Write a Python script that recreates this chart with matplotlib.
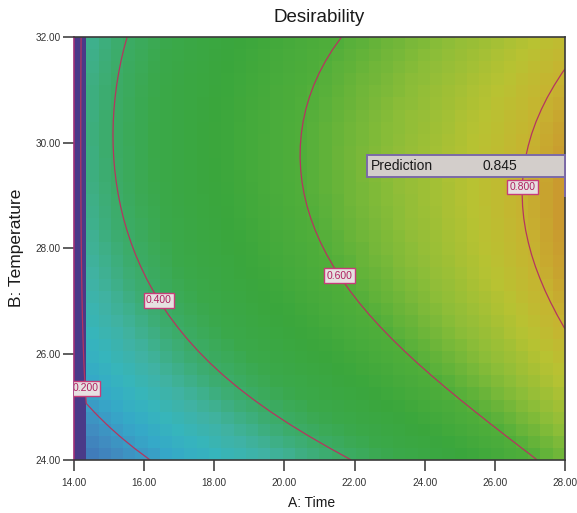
import numpy as np
import matplotlib
matplotlib.use("Agg")
import matplotlib.pyplot as plt
from matplotlib.colors import LinearSegmentedColormap
from matplotlib.patches import Rectangle

plt.rcParams['font.family'] = ['Liberation Sans', 'DejaVu Sans']

# axis ranges and ticks
time_lim = [14.0, 28.0]
temp_lim = [24.0, 32.0]
time_ticks = [14, 16, 18, 20, 22, 24, 26, 28]
temp_ticks = [24, 26, 28, 30, 32]

# contour traces (A: Time, B: Temperature)
levels = [0.2, 0.4, 0.6, 0.8]
d020_time = [14.46, 14.74, 15.31, 16.25]
d020_temp = [25.13, 24.81, 24.34, 24.00]
d040_time = [15.43, 15.23, 15.17, 15.60, 16.08, 16.42, 17.60, 18.53, 20.44, 22.00]
d040_temp = [32.00, 31.13, 29.86, 28.00, 27.35, 27.02, 26.08, 25.46, 24.62, 24.00]
d060_time = [22.00, 21.00, 20.44, 20.30, 20.44, 21.00, 21.60, 22.73, 24.64, 27.15]
d060_temp = [32.00, 31.13, 30.48, 29.80, 28.90, 28.00, 27.50, 26.51, 25.27, 24.00]
d080_time = [28.00, 27.09, 26.80, 26.75, 26.95, 27.49, 28.00]
d080_temp = [31.28, 30.30, 29.73, 28.90, 27.97, 27.35, 26.65]
# edge values judged from the colours
edge_time = [14.35, 14.35, 14.35, 14.35, 14.35, 14.35, 28.0, 28.0, 28.0]
edge_temp = [32.0, 30.0, 28.0, 26.0, 25.1, 24.0, 32.0, 29.0, 24.0]
edge_val = [0.35, 0.35, 0.33, 0.27, 0.20, 0.12, 0.78, 0.85, 0.64]

# flag
pred_time = 28.0
pred_temp = 29.0
pred_value = 0.845

# label spots for the contour values
label_spots = [(14.40, 25.36), (16.42, 27.02), (21.60, 27.50), (26.75, 29.16)]

# colours of the desirability scale
scale_vals = [0.00, 0.10, 0.17, 0.23, 0.28, 0.33, 0.39, 0.45, 0.52, 0.60, 0.68, 0.75, 0.80, 0.87]
scale_cols = ['#4a3a88', '#3f6ab3', '#408cc0', '#35a8c8', '#36b5bc', '#40b2a2', '#3cac6c',
              '#3aa84a', '#3aa63c', '#50ae3a', '#8dbd38', '#b8c232', '#c6b430', '#cc8a2e']


def basis(A, B):
    a = (np.asarray(A, float) - 21.0) / 7.0
    b = (np.asarray(B, float) - 28.0) / 4.0
    return np.stack([np.ones_like(a), a, b, a * b, a ** 2, b ** 2,
                     a ** 2 * b, a * b ** 2, a ** 3, b ** 3], axis=-1)


# cubic response surface through the traced points
pts_A = np.concatenate([d020_time, d040_time, d060_time, d080_time, edge_time])
pts_B = np.concatenate([d020_temp, d040_temp, d060_temp, d080_temp, edge_temp])
pts_D = np.concatenate([[0.2] * len(d020_time), [0.4] * len(d040_time),
                        [0.6] * len(d060_time), [0.8] * len(d080_time), edge_val])
coef, *_ = np.linalg.lstsq(basis(pts_A, pts_B), pts_D, rcond=None)

nx, ny = 40, 35
A_nodes = np.linspace(time_lim[0], time_lim[1], nx + 1)
B_nodes = np.linspace(temp_lim[0], temp_lim[1], ny + 1)
AA, BB = np.meshgrid(A_nodes, B_nodes)
Z = np.clip(basis(AA, BB) @ coef, 0, 1)
Z[:, 0] = 0.0  # first column is out of range -> zero desirability

Ac = 0.5 * (A_nodes[:-1] + A_nodes[1:])
Bc = 0.5 * (B_nodes[:-1] + B_nodes[1:])
AC, BC = np.meshgrid(Ac, Bc)
C = np.clip(basis(AC, BC) @ coef, 0, 1)
C[:, 0] = 0.0

cmap = LinearSegmentedColormap.from_list(
    'desir', list(zip(np.array(scale_vals) / scale_vals[-1], scale_cols)))

fig = plt.figure(figsize=(5.77, 5.13), dpi=100)
ax = fig.add_axes([0.1282, 0.1033, 0.851, 0.8246])

ax.pcolormesh(A_nodes, B_nodes, C, cmap=cmap, vmin=0, vmax=scale_vals[-1],
              shading='flat', antialiased=False)
cs = ax.contour(A_nodes, B_nodes, Z, levels=levels, colors='#b5355f', linewidths=0.9)
ax.clabel(cs, inline=False, fmt='%.3f', manual=label_spots, fontsize=7.5)
for t in cs.labelTexts:
    t.set_rotation(0)
    t.set_color('#b02060')
    t.set_bbox(dict(boxstyle='square,pad=0.22', fc='#e6e1e1', ec='#c83c78', lw=1.0))

# prediction flag
box_w, box_h, box_gap = 5.65, 0.42, 0.35
ax.add_patch(Rectangle((pred_time - box_w, pred_temp + box_gap), box_w, box_h,
                       fc='#d3cecb', ec='#7b6aa8', lw=1.4, zorder=5, clip_on=False))
ax.plot([pred_time, pred_time], [pred_temp, pred_temp + box_gap], color='#7b6aa8',
        lw=1.4, zorder=5, clip_on=False)
ax.text(pred_time - box_w + 0.12, pred_temp + box_gap + box_h / 2, 'Prediction',
        fontsize=10, color='#1a1a1a', va='center', ha='left', zorder=6)
ax.text(pred_time - 2.35, pred_temp + box_gap + box_h / 2, '%.3f' % pred_value,
        fontsize=10, color='#1a1a1a', va='center', ha='left', zorder=6)

ax.set_xlim(time_lim)
ax.set_ylim(temp_lim)
ax.set_xticks(time_ticks)
ax.set_yticks(temp_ticks)
ax.set_xticklabels(['%.2f' % v for v in time_ticks])
ax.set_yticklabels(['%.2f' % v for v in temp_ticks])
ax.tick_params(axis='both', direction='out', length=8, width=1.1, color='#333333',
               labelcolor='#333333', labelsize=7.2)
ax.tick_params(axis='x', pad=5)
ax.tick_params(axis='y', pad=1.5)

for side in ['top', 'bottom', 'right']:
    ax.spines[side].set_color('#3a3a3a')
    ax.spines[side].set_linewidth(1.2)
ax.spines['left'].set_color('#a03078')
ax.spines['left'].set_linewidth(1.2)

ax.text(0.5, 1.045, 'Desirability', transform=ax.transAxes, ha='center', va='center',
        fontsize=13.5, color='#1a1a1a')
ax.set_xlabel('A: Time', fontsize=10, color='#1a1a1a')
ax.xaxis.set_label_coords(0.483, -0.102)
ax.xaxis.label.set_va('center')
ax.set_ylabel('B: Temperature', fontsize=12.5, color='#1a1a1a')
ax.yaxis.set_label_coords(-0.118, 0.501)
ax.yaxis.label.set_va('center')

fig.savefig('out.png', dpi=100)
